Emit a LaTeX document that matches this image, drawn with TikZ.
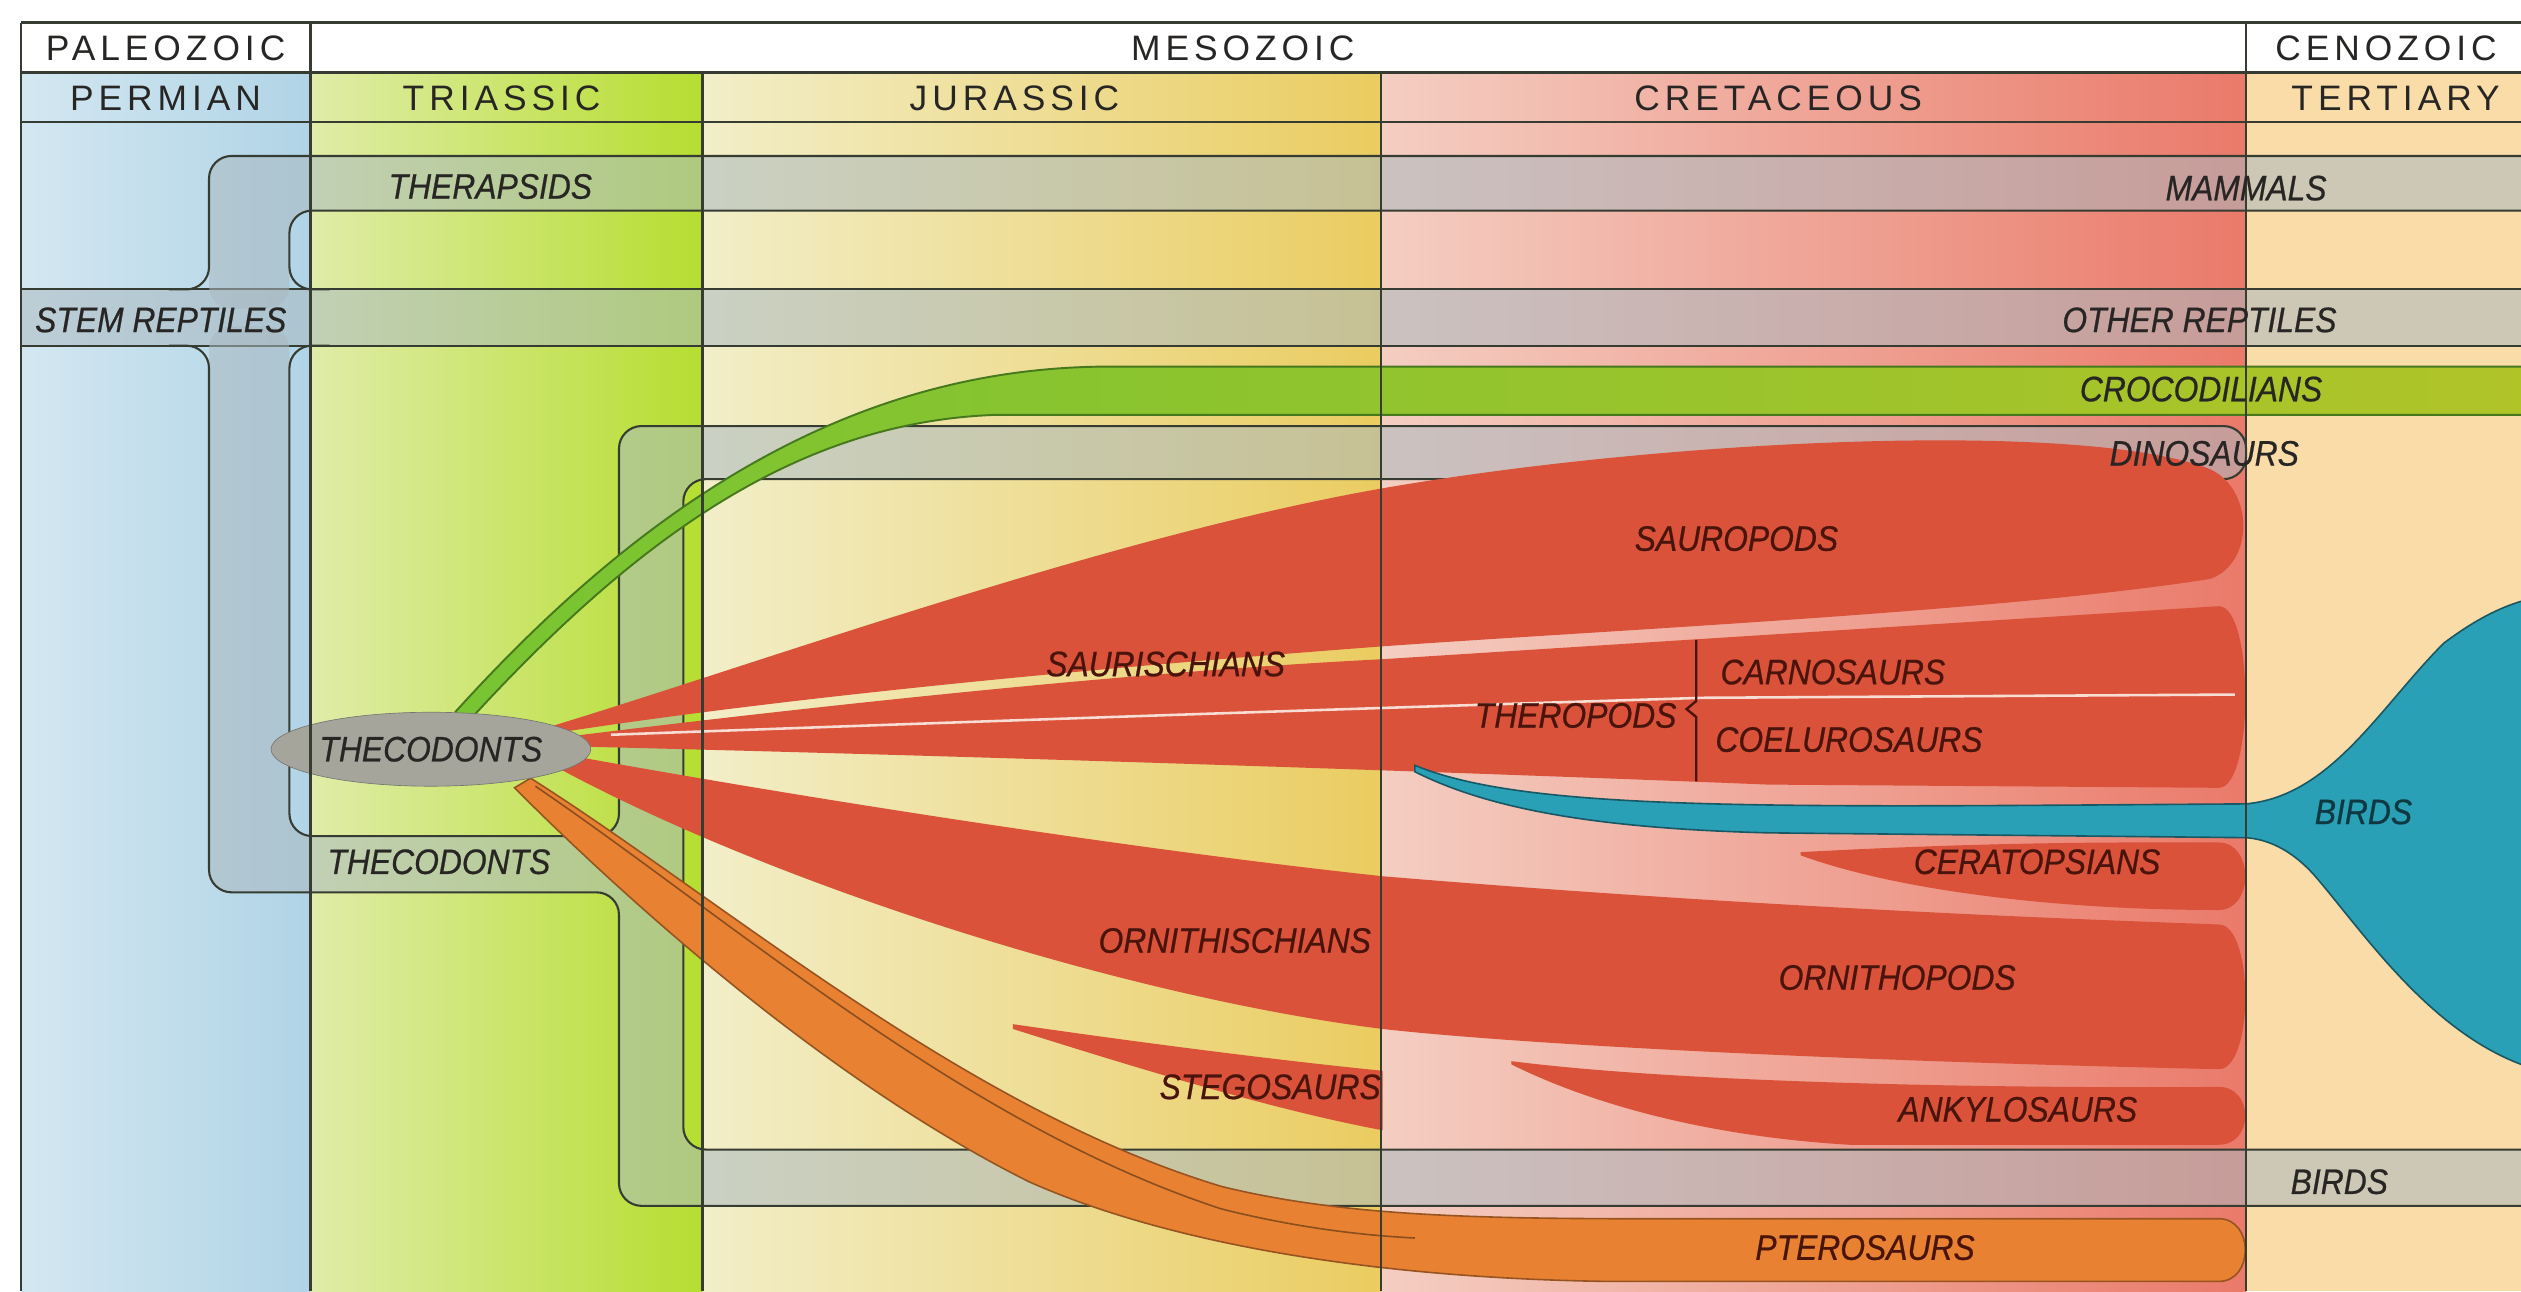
\documentclass[tikz,border=0pt]{standalone}
\usepackage{fontspec}
\setmainfont{Liberation Sans}
\newfontfamily\headfont{Liberation Sans}[LetterSpace=14]
\newfontfamily\cladefont{Liberation Sans}[FakeStretch=0.9,FakeBold=0.6]
\usetikzlibrary{shapes.geometric}

\definecolor{permianblue}{RGB}{176,212,230}
\definecolor{triaslight}{RGB}{224,236,168}
\definecolor{triasgreen}{RGB}{182,222,48}
\definecolor{juracream}{RGB}{242,238,200}
\definecolor{juragold}{RGB}{234,204,96}
\definecolor{cretpink}{RGB}{244,206,194}
\definecolor{cretred}{RGB}{234,122,106}
\definecolor{tertcream}{RGB}{249,220,168}
\definecolor{gridline}{RGB}{55,60,50}
\definecolor{bandgrey}{RGB}{170,185,192}
\definecolor{crocgreen}{RGB}{120,196,50}
\definecolor{crocolive}{RGB}{176,196,40}
\definecolor{crocdark}{RGB}{70,120,30}
\definecolor{dinored}{RGB}{218,82,58}
\definecolor{pteroorange}{RGB}{232,130,50}
\definecolor{birdteal}{RGB}{42,160,182}
\definecolor{thecogrey}{RGB}{165,165,155}
\definecolor{labelink}{RGB}{40,38,36}
\definecolor{redink}{RGB}{72,20,12}

\begin{document}
\begin{tikzpicture}[x=1pt,y=-1pt,
    head/.style={font=\headfont\fontsize{22}{22}\selectfont,text=labelink},
    clade/.style={font=\cladefont\itshape\fontsize{22}{22}\selectfont,text=labelink,inner sep=1pt},
    redclade/.style={clade,text=redink},
    band/.style={fill=bandgrey,fill opacity=0.55},
    bandedge/.style={draw=gridline,line width=1.3pt},
    rule/.style={draw=gridline,line width=1.6pt},
    streak/.style={draw=cretpink!70!white,line width=1.6pt}]

\useasboundingbox (0,0) rectangle (1568,803);
\clip (0,0) rectangle (1568,803);
\fill[white] (0,0) rectangle (1568,803);

% periods
\shade[left color=permianblue!55!white,right color=permianblue] (13,45) rectangle (193,803);
\shade[left color=triaslight,right color=triasgreen] (193,45) rectangle (437,803);
\shade[left color=juracream,right color=juragold] (437,45) rectangle (859,803);
\shade[left color=cretpink,right color=cretred] (859,45) rectangle (1397,803);
\fill[tertcream] (1397,45) rectangle (1568,803);

% grey lineages
\fill[band] (13,180) rectangle (1568,215);
\draw[bandedge] (13,180) -- (1568,180) (13,215) -- (1568,215);

\fill[band,rounded corners=14pt] (1600,97) -- (130,97) -- (130,192) -- (180,192) -- (180,131) -- (1600,131) -- cycle;
\draw[bandedge,rounded corners=14pt] (1600,97) -- (130,97) -- (130,180) -- (105,180);
\draw[bandedge,rounded corners=14pt] (205,180) -- (180,180) -- (180,131) -- (1600,131);

\fill[band,rounded corners=14pt] (130,203) -- (130,555) -- (385,555) -- (385,750) -- (1600,750) -- (1600,715) -- (425,715) -- (425,298) -- (1397,298) -- (1397,265) -- (385,265) -- (385,520) -- (180,520) -- (180,203) -- cycle;
\draw[bandedge,rounded corners=14pt] (105,215) -- (130,215) -- (130,555) -- (385,555) -- (385,750) -- (1600,750);
\draw[bandedge,rounded corners=14pt] (205,215) -- (180,215) -- (180,520) -- (385,520) -- (385,265) -- (1397,265) -- (1397,298) -- (425,298) -- (425,715) -- (1600,715);

% crocodilians
\shade[left color=crocgreen,right color=crocolive] (1568,228) -- (690,228) .. controls (520,228) and (390,325) .. (283,443) -- (292,448) .. controls (400,330) and (500,262) .. (620,258) -- (1568,258) -- cycle;
\draw[crocdark,line width=1.2pt] (1568,228) -- (690,228) .. controls (520,228) and (390,325) .. (283,443);
\draw[crocdark,line width=1.2pt] (292,448) .. controls (400,330) and (500,262) .. (620,258) -- (1568,258);

% saurischians
\fill[dinored] (342,452) .. controls (480,410) and (700,330) .. (870,302) .. controls (1050,272) and (1300,262) .. (1375,292) .. controls (1402,305) and (1402,350) .. (1375,360) .. controls (1250,380) and (1000,392) .. (860,402) .. controls (700,414) and (500,432) .. (345,456) -- cycle;
\fill[dinored] (346,459) .. controls (500,440) and (700,418) .. (860,410) -- (1380,377) .. controls (1402,377) and (1402,490) .. (1380,490) -- (1100,488) .. controls (900,480) and (600,470) .. (346,464) -- cycle;
\draw[streak] (380,457) .. controls (600,449) and (800,442) .. (1060,434) -- (1390,432);

% birds
\fill[birdteal,draw=birdteal!55!black,line width=1pt] (880,476) .. controls (950,505) and (1100,502) .. (1397,500) .. controls (1450,495) and (1480,440) .. (1520,400) .. controls (1540,385) and (1555,378) .. (1568,374) -- (1575,374) -- (1575,664) -- (1568,662) .. controls (1510,640) and (1470,580) .. (1440,545) .. controls (1425,528) and (1410,522) .. (1397,521) -- (1100,518) .. controls (980,515) and (920,500) .. (880,480) -- cycle;

% ornithischians
\fill[dinored] (344,468) .. controls (520,500) and (720,530) .. (860,545) .. controls (1100,565) and (1300,572) .. (1380,575) .. controls (1402,575) and (1402,665) .. (1380,665) .. controls (1150,660) and (950,650) .. (860,640) .. controls (700,620) and (480,550) .. (344,476) -- cycle;
\fill[dinored] (1120,530) .. controls (1250,523) and (1330,524) .. (1380,524) .. controls (1402,524) and (1402,566) .. (1380,566) .. controls (1280,566) and (1180,554) .. (1120,532) -- cycle;
\fill[dinored] (630,637) .. controls (720,650) and (800,660) .. (860,666) -- (860,703) .. controls (790,690) and (700,662) .. (630,640) -- cycle;
\fill[dinored] (940,660) .. controls (1050,674) and (1250,677) .. (1380,676) .. controls (1402,676) and (1402,712) .. (1380,712) -- (1150,712) .. controls (1050,706) and (980,682) .. (940,662) -- cycle;

% pterosaurs
\fill[pteroorange,draw=pteroorange!65!black,line width=1pt] (330,484) .. controls (450,560) and (600,690) .. (760,738) .. controls (850,760) and (950,758) .. (1100,758) -- (1380,758) .. controls (1402,758) and (1402,797) .. (1380,797) -- (1000,797) .. controls (860,795) and (730,775) .. (640,735) .. controls (520,675) and (400,570) .. (320,490) -- cycle;
\draw[pteroorange!60!black,line width=1pt] (333,489) .. controls (455,572) and (600,700) .. (760,752) .. controls (800,762) and (840,768) .. (880,770);

\node[ellipse,draw=gridline!70,fill=thecogrey,minimum width=150pt,minimum height=46pt,clade] (thecoOrigin) at (268,466) {THECODONTS};

% grid
\draw[rule] (13,14) -- (1568,14) (13,45) -- (1568,45) (13,76) -- (1568,76);
\draw[rule] (13,14) -- (13,803) (193,14) -- (193,803) (437,45) -- (437,803) (859,45) -- (859,803) (1397,14) -- (1397,803);

\node[head] (paleozoic) at (103,30) {PALEOZOIC};
\node[head] (mesozoic) at (773,30) {MESOZOIC};
\node[head] (cenozoic) at (1484,30) {CENOZOIC};
\node[head] (permian) at (103,61) {PERMIAN};
\node[head] (triassic) at (312,61) {TRIASSIC};
\node[head] (jurassic) at (631,61) {JURASSIC};
\node[head] (cretaceous) at (1106,61) {CRETACEOUS};
\node[head] (tertiary) at (1490,61) {TERTIARY};

\node[clade] (therapsids) at (305,116) {THERAPSIDS};
\node[clade] (mammals) at (1397,117) {MAMMALS};
\node[clade] (stemReptiles) at (100,199) {STEM REPTILES};
\node[clade] (otherReptiles) at (1368,199) {OTHER REPTILES};
\node[clade] (crocodilians) at (1369,242) {CROCODILIANS};
\node[clade] (dinosaurs) at (1371,282) {DINOSAURS};
\node[clade] (thecodonts) at (273,536) {THECODONTS};
\node[redclade] (saurischians) at (725,413) {SAURISCHIANS};
\node[redclade] (sauropods) at (1080,335) {SAUROPODS};
\node[redclade] (theropods) at (980,445) {THEROPODS};
\node[redclade] (carnosaurs) at (1140,418) {CARNOSAURS};
\node[redclade] (coelurosaurs) at (1150,460) {COELUROSAURS};
\node[redclade] (ceratopsians) at (1267,536) {CERATOPSIANS};
\node[redclade] (ornithischians) at (768,585) {ORNITHISCHIANS};
\node[redclade] (ornithopods) at (1180,608) {ORNITHOPODS};
\node[redclade] (stegosaurs) at (790,676) {STEGOSAURS};
\node[redclade] (ankylosaurs) at (1255,690) {ANKYLOSAURS};
\node[redclade] (pterosaurs) at (1160,776) {PTEROSAURS};
\node[clade,text=birdteal!35!black] (birdsTertiary) at (1470,505) {BIRDS};
\node[clade] (birds) at (1455,735) {BIRDS};

\draw[redink,line width=1.5pt] (1055,398) -- (1055,436) -- (1049,441) -- (1055,446) -- (1055,486);
\end{tikzpicture}
\end{document}
